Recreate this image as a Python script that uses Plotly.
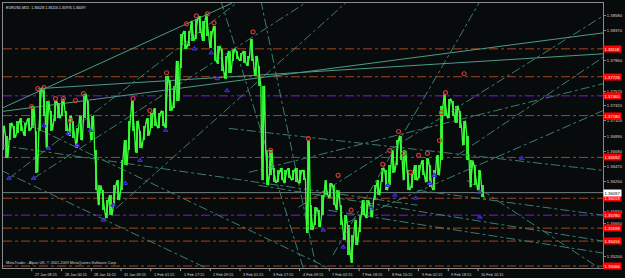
import plotly.graph_objects as go

# ---------------- data (EURUSD M15, sampled every 8 bars = 2 hours) ----------------
BAR_STEP = 8
high = [1.3704,1.3690,1.3708,1.3704,1.3711,1.3714,1.3708,1.3714,1.3731,1.3697,
        1.3756,1.3757,1.3739,1.3725,1.3739,1.3736,1.3742,1.3725,1.3718,1.3711,
        1.3700,1.3718,1.3749,1.3739,1.3718,1.3669,1.3620,1.3613,1.3599,1.3606,
        1.3620,1.3627,1.3655,1.3683,1.3711,1.3739,1.3711,1.3697,1.3704,1.3714,
        1.3722,1.3728,1.3722,1.3725,1.3774,1.3767,1.3760,1.3795,1.3833,1.3837,
        1.3837,1.3851,1.3854,1.3858,1.3851,1.3861,1.3837,1.3844,1.3816,1.3812,
        1.3802,1.3809,1.3812,1.3809,1.3806,1.3809,1.3802,1.3826,1.3802,1.3788,
        1.3760,1.3669,1.3669,1.3644,1.3641,1.3644,1.3641,1.3644,1.3641,1.3644,
        1.3641,1.3641,1.3683,1.3592,1.3589,1.3585,1.3606,1.3627,1.3623,1.3620,
        1.3613,1.3592,1.3578,1.3564,1.3550,1.3571,1.3578,1.3599,1.3599,1.3592,
        1.3620,1.3627,1.3645,1.3641,1.3648,1.3669,1.3683,1.3690,1.3669,1.3641,
        1.3638,1.3648,1.3648,1.3655,1.3658,1.3648,1.3641,1.3662,1.3732,1.3749,
        1.3742,1.3739,1.3732,1.3725,1.3711,1.3690,1.3655,1.3648,1.3641,1.3620]
low = [1.3669,1.3659,1.3683,1.3687,1.3693,1.3697,1.3690,1.3697,1.3700,1.3638,
       1.3697,1.3718,1.3673,1.3697,1.3711,1.3714,1.3718,1.3697,1.3690,1.3687,
       1.3673,1.3683,1.3714,1.3701,1.3683,1.3613,1.3592,1.3585,1.3574,1.3578,
       1.3592,1.3599,1.3613,1.3648,1.3669,1.3697,1.3666,1.3672,1.3683,1.3690,
       1.3700,1.3704,1.3700,1.3704,1.3701,1.3725,1.3728,1.3739,1.3785,1.3812,
       1.3816,1.3823,1.3826,1.3834,1.3823,1.3830,1.3813,1.3795,1.3791,1.3781,
       1.3770,1.3778,1.3795,1.3798,1.3795,1.3792,1.3788,1.3795,1.3774,1.3760,
       1.3627,1.3620,1.3634,1.3624,1.3624,1.3627,1.3623,1.3630,1.3627,1.3624,
       1.3623,1.3627,1.3553,1.3557,1.3564,1.3561,1.3578,1.3606,1.3602,1.3592,
       1.3585,1.3564,1.3543,1.3522,1.3511,1.3536,1.3554,1.3578,1.3574,1.3575,
       1.3599,1.3606,1.3624,1.3613,1.3620,1.3638,1.3648,1.3655,1.3627,1.3613,
       1.3616,1.3627,1.3630,1.3634,1.3624,1.3617,1.3613,1.3634,1.3655,1.3718,
       1.3714,1.3718,1.3708,1.3700,1.3676,1.3655,1.3617,1.3620,1.3613,1.3603]
x_bars = [2 + BAR_STEP * i for i in range(len(high))]

# time axis (bar index of each label, 64 bars = 16 h apart)
time_tick_bars = [0, 64, 128, 192, 256, 320, 384, 448, 512, 576, 640, 704, 768, 832, 896, 960, 1024]
time_tick_labels = ["26 Jan 2011", "27 Jan 08:15", "28 Jan 00:15", "28 Jan 16:15", "31 Jan 09:15",
                    "1 Feb 01:15", "1 Feb 17:15", "2 Feb 09:15", "3 Feb 01:15", "3 Feb 17:15",
                    "4 Feb 09:15", "7 Feb 02:15", "7 Feb 18:15", "8 Feb 10:15", "9 Feb 02:15",
                    "9 Feb 18:15", "10 Feb 10:15"]

# price axis
price_ticks = [1.38580, 1.38370, 1.37960, 1.37525, 1.37320, 1.37105, 1.36890,
               1.36680, 1.36470, 1.36250, 1.35830, 1.35660, 1.35200]

# horizontal levels
orange_levels = [1.38118, 1.37726, 1.37180, 1.36592, 1.36018, 1.35598, 1.35416, 1.35066]
purple_levels = [1.37460, 1.35780]
current_price = 1.36097
header = "EURUSD,M15  1.36028 1.36116 1.35976 1.36097"
footer = "MetaTrader - Alpari UK, \u00a9 2001-2009 MetaQuotes Software Corp."

# trend lines: (bar0, price0, bar1, price1)
solid_lines = [(-2, 1.37278, 495, 1.38762),
               (-2, 1.37236, 1293, 1.38342),
               (77, 1.37558, 1293, 1.38048)]
dashed_lines = [(-2, 1.36410, 439, 1.35038),
                (557, 1.38790, 676, 1.35038),
                (471, 1.38790, 648, 1.35038),
                (712, 1.35220, 1026, 1.38762),
                (638, 1.35892, 1293, 1.38580),
                (979, 1.36620, 1293, 1.38000),
                (531, 1.36382, 1293, 1.37628),
                (488, 1.37000, 1293, 1.36410),
                (744, 1.35682, 1293, 1.37250),
                (894, 1.36130, 1293, 1.35780),
                (1000, 1.36270, 1293, 1.35000),
                (552, 1.36200, 1293, 1.35416),
                (702, 1.35850, 1293, 1.35248),
                (15, 1.36298, 510, 1.38790),
                (68, 1.36298, 659, 1.38790),
                (217, 1.35710, 744, 1.38790),
                (-2, 1.36760, 894, 1.35920),
                (40, 1.37110, 702, 1.35038)]

# fractal markers
up_x = [64, 77, 90, 115, 132, 147, 158, 175, 282, 318, 354, 397, 418, 442, 456, 540, 578, 659,
        723, 751, 819, 834, 853, 864, 879, 896, 915, 941, 945, 954, 994]
up_p = [1.37306, 1.37558, 1.37572, 1.37418, 1.37418, 1.37110, 1.37390, 1.37488, 1.37418, 1.37250,
        1.37782, 1.38468, 1.38580, 1.38608, 1.38482, 1.38356, 1.36690, 1.36858, 1.36340, 1.35850,
        1.36494, 1.36690, 1.36956, 1.36648, 1.36382, 1.36620, 1.36648, 1.36830, 1.37222, 1.37502,
        1.37768]
dn_x = [15, 68, 90, 100, 143, 162, 190, 218, 239, 265, 297, 352, 414, 450, 463, 484, 691, 734,
        794, 830, 845, 890, 920, 930, 1028, 1028, 1118]
dn_p = [1.36298, 1.36298, 1.37040, 1.36718, 1.36928, 1.36760, 1.36970, 1.35710, 1.35920, 1.36228,
        1.36550, 1.36970, 1.38118, 1.38062, 1.37698, 1.37530, 1.35570, 1.35332, 1.35878, 1.36200,
        1.36060, 1.36018, 1.36228, 1.36340, 1.36102, 1.35752, 1.36578]

# ---------------- figure ----------------
BG = "#070b0b"
fig = go.Figure()

for (x0, p0, x1, p1) in dashed_lines:
    fig.add_trace(go.Scatter(x=[x0, x1], y=[p0, p1], mode="lines",
                             line=dict(color="#3f7c6e", width=1, dash="dashdot"),
                             hoverinfo="skip", showlegend=False))
for (x0, p0, x1, p1) in solid_lines:
    fig.add_trace(go.Scatter(x=[x0, x1], y=[p0, p1], mode="lines",
                             line=dict(color="#4f9a86", width=1),
                             hoverinfo="skip", showlegend=False))

# high-low bars
fig.add_trace(go.Bar(x=x_bars, base=low, y=[h - l for h, l in zip(high, low)],
                     width=BAR_STEP * 0.45, marker=dict(color="#2ee82e", line=dict(width=0)),
                     hoverinfo="skip", showlegend=False))
# jagged path through the highs and lows (alternating direction in each sample)
zx, zy = [], []
for i, (xb, h, l) in enumerate(zip(x_bars, high, low)):
    a, b = (l, h) if i % 2 == 0 else (h, l)
    zx += [xb - BAR_STEP * 0.35, xb + BAR_STEP * 0.35]
    zy += [a, b]
fig.add_trace(go.Scatter(x=zx, y=zy, mode="lines", line=dict(color="#3cff3c", width=1.3),
                         hoverinfo="skip", showlegend=False))

fig.add_trace(go.Scatter(x=up_x, y=up_p, mode="markers",
                         marker=dict(symbol="circle-open", size=4, color="#c83a3a", line=dict(width=1.2)),
                         hoverinfo="skip", showlegend=False))
fig.add_trace(go.Scatter(x=dn_x, y=dn_p, mode="markers",
                         marker=dict(symbol="triangle-up-open", size=4, color="#3a2ad8", line=dict(width=1.2)),
                         hoverinfo="skip", showlegend=False))

shapes = []
for p in orange_levels:
    shapes.append(dict(type="line", xref="paper", x0=0, x1=1, yref="y", y0=p, y1=p,
                       line=dict(color="#a5461e", width=1, dash="dashdot"), layer="below"))
for p in purple_levels:
    shapes.append(dict(type="line", xref="paper", x0=0, x1=1, yref="y", y0=p, y1=p,
                       line=dict(color="#5a0ea8", width=1.5, dash="dashdot"), layer="below"))
shapes.append(dict(type="line", xref="paper", x0=0, x1=1, yref="y", y0=current_price, y1=current_price,
                   line=dict(color="#7a7f7f", width=1), layer="below"))
for b in time_tick_bars:
    shapes.append(dict(type="line", xref="x", x0=b, x1=b, yref="paper", y0=0, y1=-0.012,
                       line=dict(color="#9a9a9a", width=1)))

ann = []
for p in orange_levels + purple_levels:
    ann.append(dict(xref="paper", x=1.0, yref="y", y=p, text=f"{p:.5f}", showarrow=False,
                    xanchor="left", yanchor="middle", bgcolor="#ff0000",
                    font=dict(family="Liberation Sans", size=4.2, color="#ffffff"), borderpad=0.6))
ann.append(dict(xref="paper", x=1.0, yref="y", y=current_price, text=f"{current_price:.5f}",
                showarrow=False, xanchor="left", yanchor="middle", bgcolor="#ffffff",
                font=dict(family="Liberation Sans", size=4.2, color="#000000"), borderpad=0.6))
for b, t in zip(time_tick_bars, time_tick_labels):
    ann.append(dict(xref="x", x=b, yref="paper", y=-0.012, text=t, showarrow=False,
                    xanchor="left", yanchor="top", xshift=1,
                    font=dict(family="Liberation Sans", size=3.8, color="#d8d8d8")))
ann.append(dict(xref="paper", x=0.002, yref="paper", y=0.997, text=header, showarrow=False,
                xanchor="left", yanchor="top",
                font=dict(family="Liberation Sans", size=3.6, color="#e0e0e0")))
ann.append(dict(xref="paper", x=0.002, yref="paper", y=0.005, text=footer, showarrow=False,
                xanchor="left", yanchor="bottom",
                font=dict(family="Liberation Sans", size=3.8, color="#d0d0d0")))

fig.update_layout(
    width=625, height=278,
    margin=dict(l=2, r=18, t=2, b=10),
    paper_bgcolor=BG, plot_bgcolor=BG,
    showlegend=False, bargap=0,
    shapes=shapes, annotations=ann,
    xaxis=dict(range=[2.1, 1292.8], showgrid=False, zeroline=False, showticklabels=False,
               showline=True, mirror=True, linecolor="#8a8a8a", linewidth=1, fixedrange=True),
    yaxis=dict(range=[1.35038, 1.38762], side="right", tickvals=price_ticks, tickformat=".5f",
               showgrid=False, zeroline=False, showline=True, mirror=True,
               linecolor="#8a8a8a", linewidth=1, ticks="outside", ticklen=2, tickcolor="#8a8a8a",
               tickfont=dict(family="Liberation Sans", size=4.2, color="#d8d8d8")),
)

fig.write_html("out.html")
